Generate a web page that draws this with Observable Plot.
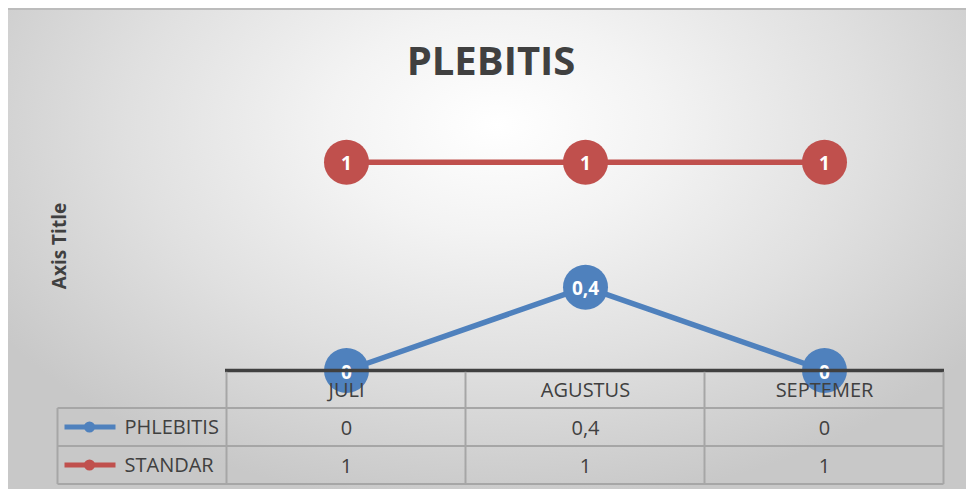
<!DOCTYPE html>
<html>
<head>
<meta charset="utf-8">
<script src="https://cdn.jsdelivr.net/npm/d3@7"></script>
<script src="https://cdn.jsdelivr.net/npm/@observablehq/plot@0.6"></script>
<style>
  html, body { margin: 0; padding: 0; background: #ffffff; }
  #wrap { position: relative; width: 966px; height: 489px; overflow: hidden; background: #ffffff; font-family: "Open Sans", sans-serif; }
  #bg { position: absolute; left: 8px; top: 8px; right: 0; bottom: 0;
        border-top: 2px solid #bcbcbc;
        background: radial-gradient(ellipse 62% 80% at 51% 24%, #ffffff 0%, #f3f3f3 28%, #e0e0e0 62%, #c8c8c8 100%); }
  #chart { position: absolute; left: 0; top: 0; }
  #title { position: absolute; left: 0; width: 982px; top: 32px; text-align: center; font-size: 40px; font-weight: 700; color: #404040; line-height: 56px; }
  #ytitle { position: absolute; left: 59px; top: 246px; transform: translate(-50%, -50%) rotate(-90deg); font-size: 19px; font-weight: 700; color: #404040; white-space: nowrap; }
</style>
</head>
<body>
<div id="wrap">
  <div id="bg"></div>
  <div id="chart"></div>
  <div id="title">PLEBITIS</div>
  <div id="ytitle">Axis Title</div>
</div>
<script>
// ---- data ----
const months = ["JULI", "AGUSTUS", "SEPTEMER"];
const seriesNames = ["PHLEBITIS", "STANDAR"];
const phlebitis = [0, 0.4, 0];
const standar = [1, 1, 1];
const seriesColors = ["#4f81bd", "#c0504d"];

const values = {PHLEBITIS: phlebitis, STANDAR: standar};
const data = seriesNames.flatMap(s => months.map((m, i) => ({series: s, month: m, value: values[s][i]})));
const fmt = v => String(v).replace(".", ",");
const textColor = "#404040";

const rowH = 38;
const chart = Plot.plot({
  width: 966,
  height: 489,
  marginLeft: 225,
  marginRight: 22,
  marginTop: 120,
  marginBottom: 119,
  style: {background: "transparent", fontFamily: "Open Sans, sans-serif", overflow: "visible"},
  x: {type: "point", domain: months, padding: 0.5, axis: null},
  y: {domain: [0, 1.2], axis: null},
  color: {domain: seriesNames, range: seriesColors},
  marks: [
    Plot.line(data, {x: "month", y: "value", z: "series", stroke: "series", strokeWidth: 5.5}),
    Plot.dot(data, {x: "month", y: "value", fill: "series", r: 22.5}),
    Plot.text(data, {x: "month", y: "value", dy: 2, text: d => fmt(d.value), fill: "white", fontWeight: "bold", fontSize: 19}),
    Plot.ruleY([0], {stroke: textColor, strokeWidth: 3.5}),
    Plot.text(months, {x: d => d, y: () => 0, dy: 20, text: d => d, fontSize: 20, fill: textColor}),
    Plot.text(data.filter(d => d.series === "PHLEBITIS"), {x: "month", y: () => 0, dy: 20 + rowH, text: d => fmt(d.value), fontSize: 20, fill: textColor}),
    Plot.text(data.filter(d => d.series === "STANDAR"), {x: "month", y: () => 0, dy: 20 + 2 * rowH, text: d => fmt(d.value), fontSize: 20, fill: textColor})
  ]
});

document.getElementById("chart").appendChild(chart);

// ---- data table grid and legend keys, placed from the chart's scales ----
const xs = chart.scale("x"), ys = chart.scale("y");
const step = xs.step;
const y0 = ys.apply(0);
const colLeft = xs.apply(months[0]) - step / 2;
const colRight = xs.apply(months[months.length - 1]) + step / 2;
const legendLeft = colLeft - 169;
const gridColor = "#a6a6a6";
const svg = d3.select(chart);
const g = svg.append("g").attr("stroke", gridColor).attr("stroke-width", 2).attr("fill", "none");
// horizontal lines
[1, 2, 3].forEach(k => {
  g.append("line").attr("x1", legendLeft).attr("x2", colRight).attr("y1", y0 + k * rowH).attr("y2", y0 + k * rowH);
});
// vertical lines
g.append("line").attr("x1", legendLeft).attr("x2", legendLeft).attr("y1", y0 + rowH).attr("y2", y0 + 3 * rowH);
months.forEach(m => {
  const x = xs.apply(m) - step / 2;
  g.append("line").attr("x1", x).attr("x2", x).attr("y1", y0 + 1.8).attr("y2", y0 + 3 * rowH);
});
g.append("line").attr("x1", colRight).attr("x2", colRight).attr("y1", y0 + 1.8).attr("y2", y0 + 3 * rowH);

// legend keys
seriesNames.forEach((s, i) => {
  const cy = y0 + (i + 1.5) * rowH;
  const c = seriesColors[i];
  const lg = svg.append("g");
  lg.append("line").attr("x1", legendLeft + 7).attr("x2", legendLeft + 58).attr("y1", cy).attr("y2", cy)
    .attr("stroke", c).attr("stroke-width", 5);
  lg.append("circle").attr("cx", legendLeft + 32).attr("cy", cy).attr("r", 5.5).attr("fill", c);
  lg.append("text").attr("x", legendLeft + 67).attr("y", cy).attr("dy", "0.35em")
    .attr("text-anchor", "start")
    .attr("font-size", 20).attr("fill", textColor).attr("font-family", "Open Sans, sans-serif").text(s);
});
</script>
</body>
</html>
